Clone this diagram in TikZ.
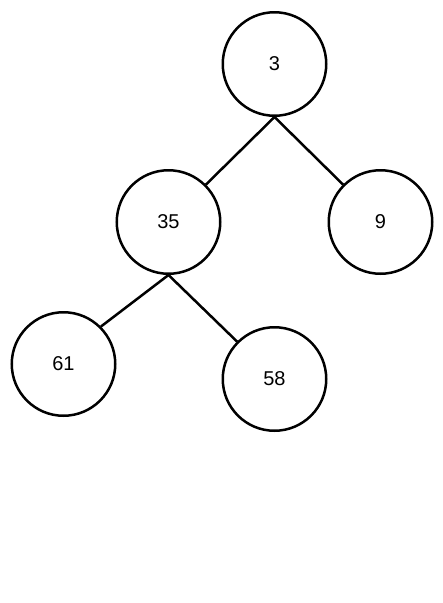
\documentclass[tikz,border=0pt]{standalone}
\usepackage{fontspec}
\setmainfont{Liberation Sans}
\begin{document}
\begin{tikzpicture}[x=1pt,y=-1pt,
  treenode/.style={circle,draw=black,line width=2.5pt,minimum size=103.5pt,inner sep=0pt,font=\fontsize{20}{20}\selectfont},
  edge/.style={draw=black,line width=2.5pt}]
\useasboundingbox (0,0) rectangle (443,603);
\node[treenode] (n3) at (274.5,64) {3};
\node[treenode] (n35) at (168.5,222) {35};
\node[treenode] (n9) at (380.5,222) {9};
\node[treenode] (n61) at (63.5,364) {61};
\node[treenode] (n58) at (274.5,379) {58};
\draw[edge] (n3.south) -- (n35.north east);
\draw[edge] (n3.south) -- (n9.north west);
\draw[edge] (n35.south) -- (n61.north east);
\draw[edge] (n35.south) -- (n58.north west);
\end{tikzpicture}
\end{document}
